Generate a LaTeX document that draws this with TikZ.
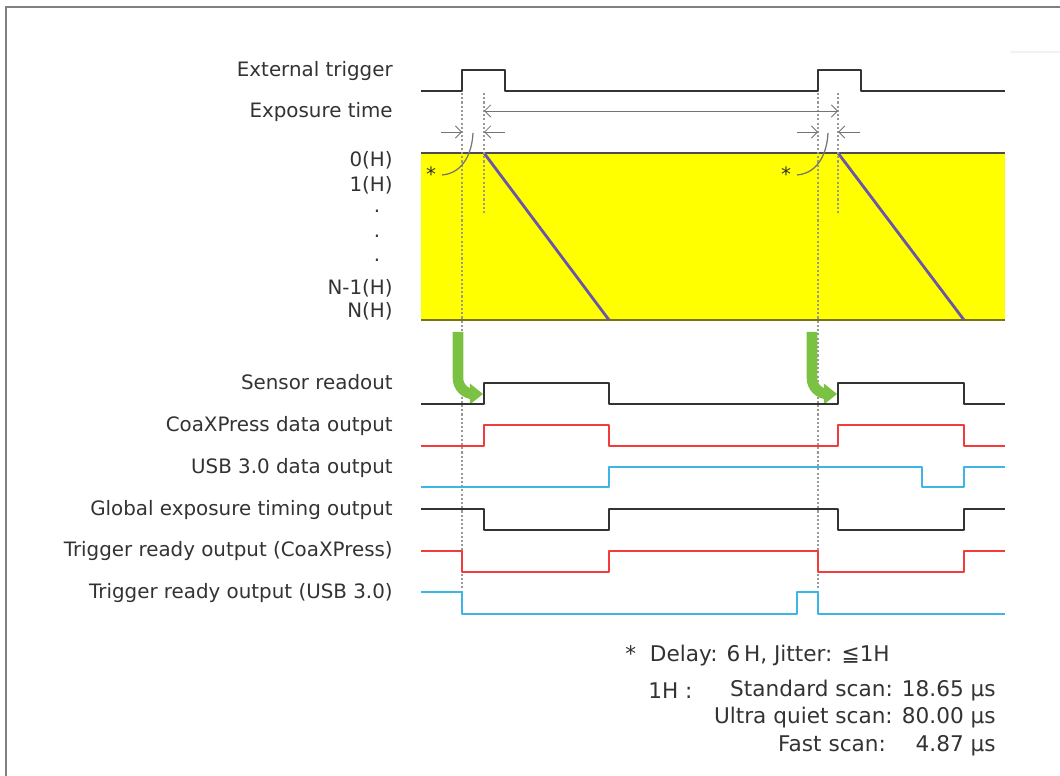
\documentclass[tikz,border=0pt]{standalone}
\usepackage{fontspec}
\setmainfont{DejaVu Sans}
\usetikzlibrary{arrows.meta,positioning,calc}
\definecolor{sigred}{HTML}{F23C3C}
\definecolor{sigblue}{HTML}{3DB5E6}
\definecolor{sigblack}{HTML}{333333}
\definecolor{scanblue}{HTML}{6B55A6}
\definecolor{readgreen}{HTML}{7CC242}
\definecolor{boxyellow}{HTML}{FFFF00}

\begin{document}
\begin{tikzpicture}[x=0.02cm, y=-0.02cm,
  every node/.style={font=\fontsize{11.3}{13}\selectfont, text=black!80, inner sep=0pt},
  lbl/.style={anchor=east, text height=0.73em, text depth=0pt},
  note/.style={font=\fontsize{12.3}{14}\selectfont},
  wave/.style={line width=1.3pt, line join=round},
  guide/.style={gray!80, line width=0.8pt, dash pattern=on 1.2pt off 1.2pt},
  dim/.style={gray!90!black, line width=0.5pt},
  readout/.style={readgreen, line width=6pt, rounded corners=9pt,
    -{Triangle[length=7.5pt, width=11.5pt]}}]
\useasboundingbox (0,0) rectangle (1060,776);
% frame
\draw[gray, line width=1.2pt] (1060,7) -- (6,7) -- (6,776);
\draw[black!5, line width=1pt] (1010,52) -- (1060,52);

% signal names
\foreach \name/\y/\txt in {trig/70/External trigger, expo/111/Exposure time,
  sens/383/Sensor readout, cxp/425/CoaXPress data output,
  usb/467/USB 3.0 data output, glob/509/Global exposure timing output,
  rdycxp/550/Trigger ready output (CoaXPress), rdyusb/592/Trigger ready output (USB 3.0)} {
  \node[lbl] (\name) at (393,\y) {\txt};
}
% line numbers
\foreach \name/\y/\txt in {h0/160/0(H), h1/185/1(H), hn1/288/N-1(H), hn/311/N(H)} {
  \node[lbl] (\name) at (393,\y) {\txt};
}
\foreach \name/\y in {d1/211,d2/236,d3/260} {
  \node (\name) at (377,\y) {.};
}

% rolling readout area
\fill[boxyellow] (421,153) rectangle (1005,320);
\draw[black!70, line width=0.8pt] (421,153) -- (1005,153);
\draw[olive!80!black, line width=0.8pt] (421,320) -- (1005,320);
\draw[scanblue, line width=1.6pt] (484,153) -- (609,320);
\draw[scanblue, line width=1.6pt] (838,153) -- (964,320);

% trigger edges
\draw[guide] (462,93) -- (462,592);
\draw[guide] (484,93) -- (484,215);
\draw[guide] (818,93) -- (818,592);
\draw[guide] (838,93) -- (838,215);

% exposure and delay marks
\coordinate (e1) at (484,111);
\coordinate (e2) at (838,111);
\draw[dim, {Straight Barb[length=3.5pt]}-{Straight Barb[length=3.5pt]}] (e1) -- (e2);
\foreach \a/\b in {441/462, 505/484, 797/818, 860/838} {
  \draw[dim, -{Straight Barb[length=3.5pt]}] (\a,132) -- (\b,132);
}
\node (star1) at (431,174) {*};
\node (star2) at (786,174) {*};
\draw[dim, line width=0.7pt] (442,175) .. controls (464,173) and (472,152) .. (473,133);
\draw[dim, line width=0.7pt] (797,175) .. controls (819,173) and (827,152) .. (828,133);

% readout start
\draw[readout] (458,332) |- (483,394);
\draw[readout] (812,332) |- (837,394);

% waveforms
\draw[wave, sigblack] (421,91) -| (462,70) -| (505,91) -| (818,70) -| (861,91) -- (1005,91);
\draw[wave, sigblack] (421,404) -| (484,383) -| (609,404) -| (838,383) -| (964,404) -- (1005,404);
\draw[wave, sigred] (421,446) -| (484,425) -| (609,446) -| (838,425) -| (964,446) -- (1005,446);
\draw[wave, sigblue] (421,487) -| (609,467) -| (922,487) -| (964,467) -- (1005,467);
\draw[wave, sigblack] (421,509) -| (484,530) -| (609,509) -| (838,530) -| (964,509) -- (1005,509);
\draw[wave, sigred] (421,551) -| (462,572) -| (609,551) -| (818,572) -| (964,551) -- (1005,551);
\draw[wave, sigblue] (421,592) -| (462,614) -| (797,592) -| (818,614) -- (1005,614);

% notes
\node[note, anchor=west] (delay) at (625,656) {*\ \ Delay: 6\,H, Jitter: ≦1H};
\node[note, anchor=west] (unit) at (648,691) {1H\ :};
\node[note, anchor=east] (std) at (996,691) {Standard scan: 18.65 μs};
\node[note, anchor=east] (uq) at (996,718) {Ultra quiet scan: 80.00 μs};
\node[note, anchor=east] (fast) at (996,746) {Fast scan: \ \phantom{1}4.87 μs};
\end{tikzpicture}
\end{document}
